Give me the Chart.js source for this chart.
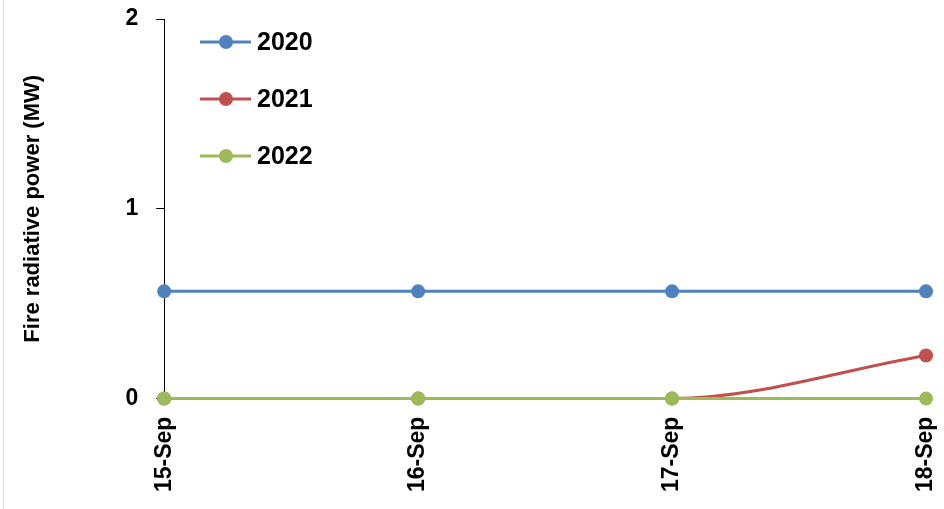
<!DOCTYPE html>
<html>
<head>
<meta charset="utf-8">
<script src="https://cdn.jsdelivr.net/npm/chart.js@4/dist/chart.umd.min.js"></script>
<style>
  html, body { margin: 0; padding: 0; background: #fff; }
  #wrap { position: relative; width: 944px; height: 509px; }
  #frame { position: absolute; left: 3px; top: 0; width: 1px; height: 509px; background: #d9d9d9; }
</style>
</head>
<body>
<div id="wrap">
  <div id="frame"></div>
  <canvas id="frp-chart" width="944" height="509"></canvas>
</div>
<script>
const days = ["15-Sep", "16-Sep", "17-Sep", "18-Sep"]
const years = ["2020", "2021", "2022"]
const frp2020 = [0.565, 0.565, 0.565, 0.565]
const frp2021 = [0, 0, 0, 0.227]
const frp2022 = [0, 0, 0, 0]
const yTicks = [0, 1, 2]

const colors = ["#4F81BD", "#C0504D", "#9BBB59"]
const fontFamily = "'Liberation Sans', Arial, sans-serif"

// excel style legend: short line with a marker in the middle
const lineLegend = {
    id: "lineLegend",
    afterDraw(chart) {
        const ctx = chart.ctx
        ctx.save()
        chart.data.datasets.forEach((ds, i) => {
            const y = 42 + i * 57
            ctx.strokeStyle = ds.borderColor
            ctx.lineWidth = 3
            ctx.beginPath()
            ctx.moveTo(200, y)
            ctx.lineTo(251, y)
            ctx.stroke()
            ctx.fillStyle = ds.borderColor
            ctx.beginPath()
            ctx.arc(226, y, 7, 0, Math.PI * 2)
            ctx.fill()
            ctx.fillStyle = "#000"
            ctx.font = "bold 25px " + fontFamily
            ctx.textBaseline = "middle"
            ctx.fillText(ds.label, 257, y + 1)
        })
        ctx.restore()
    }
}

const seriesValues = [frp2020, frp2021, frp2022]

new Chart(document.getElementById("frp-chart"), {
    type: "line",
    data: {
        labels: days,
        datasets: years.map((yr, i) => ({
            label: yr,
            data: seriesValues[i],
            borderColor: colors[i],
            backgroundColor: colors[i],
            borderWidth: 3,
            pointRadius: 7,
            pointHoverRadius: 7,
            pointBorderWidth: 0,
            cubicInterpolationMode: "monotone",
            fill: false,
            clip: false,
            order: 2 - i
        }))
    },
    options: {
        responsive: false,
        animation: false,
        layout: { padding: { left: 20, right: 18, top: 19, bottom: 5 } },
        plugins: {
            legend: { display: false },
            tooltip: { enabled: false }
        },
        scales: {
            x: {
                offset: false,
                afterFit: (scale) => { scale.paddingRight = 0; scale.paddingLeft = 0 },
                border: { display: true, color: "#000", width: 1 },
                grid: { display: true, drawOnChartArea: false, drawTicks: true, tickLength: 6, color: "#000" },
                ticks: {
                    color: "#000",
                    font: { family: fontFamily, size: 23, weight: "bold" },
                    maxRotation: 90,
                    minRotation: 90,
                    padding: 12
                }
            },
            y: {
                min: 0,
                max: 2,
                afterBuildTicks: (scale) => { scale.ticks = yTicks.map(v => ({ value: v })) },
                afterFit: (scale) => { scale.paddingTop = 0; scale.paddingBottom = 0 },
                border: { display: true, color: "#000", width: 1 },
                grid: { display: true, drawOnChartArea: false, drawTicks: true, tickLength: 8, color: "#000" },
                ticks: {
                    color: "#000",
                    font: { family: fontFamily, size: 23, weight: "bold" },
                    padding: 18
                },
                title: {
                    display: true,
                    text: "Fire radiative power (MW)",
                    color: "#000",
                    font: { family: fontFamily, size: 22, weight: "bold" },
                    padding: { top: 0, bottom: 61 }
                }
            }
        }
    },
    plugins: [lineLegend]
});
</script>
</body>
</html>
